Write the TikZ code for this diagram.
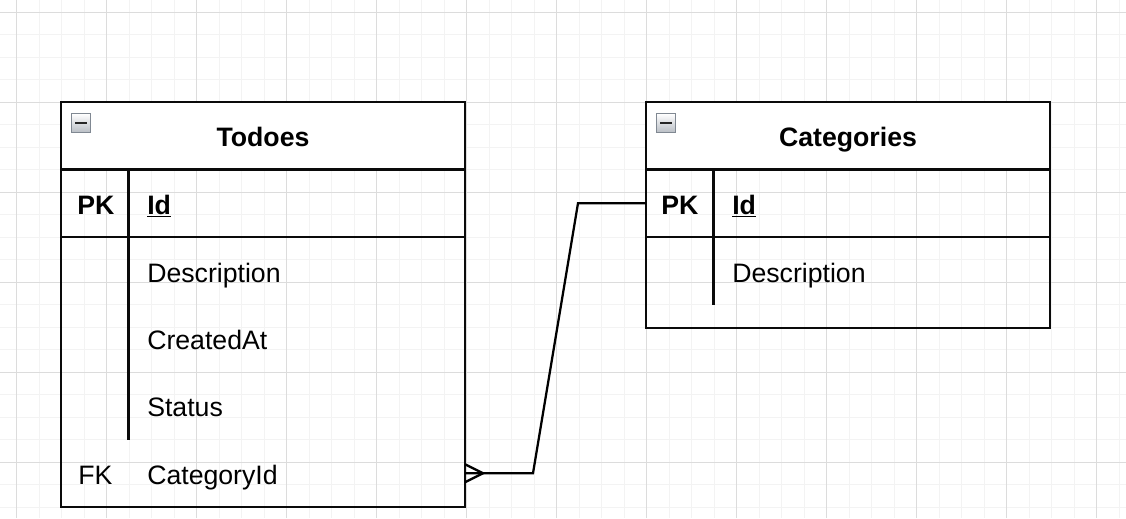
\documentclass[tikz,border=0pt]{standalone}
\usepackage{fontspec}
\setmainfont{Liberation Sans}
\usetikzlibrary{calc}
\definecolor{gridminor}{RGB}{243,243,243}
\definecolor{gridmajor}{RGB}{220,220,220}
\definecolor{iconborder}{RGB}{128,136,146}
\definecolor{iconfill}{RGB}{185,190,197}
\definecolor{edge}{RGB}{10,10,10}
\begin{document}
\begin{tikzpicture}[x=0.75pt,y=-0.75pt,
  minorline/.style={gridminor,line width=0.75pt},
  majorline/.style={gridmajor,line width=0.75pt},
  tframe/.style={draw=edge,line width=1.7pt,minimum width=303pt,inner sep=0pt,outer sep=0pt},
  hdrbox/.style={draw=edge,fill=white,line width=1.7pt,minimum width=303pt,minimum height=50.625pt,inner sep=0pt,outer sep=0pt},
  rowbox/.style={minimum width=303pt,minimum height=50.625pt,inner sep=0pt,outer sep=0pt},
  iconbox/.style={draw=iconborder,line width=1.2pt,top color=white,bottom color=iconfill,minimum size=14pt,inner sep=0pt},
  iconbar/.style={draw=black!85,line width=1.6pt},
  title/.style={anchor=base,inner sep=0pt,font=\fontsize{20}{24}\selectfont\bfseries},
  keytxt/.style={anchor=base west,inner sep=0pt,font=\fontsize{20}{24}\selectfont\bfseries},
  fieldtxt/.style={anchor=base west,inner sep=0pt,font=\fontsize{20}{24}\selectfont},
  sepline/.style={draw=edge,line width=1.7pt},
  thinrule/.style={draw=edge,line width=1.1pt},
  conn/.style={draw=black,line width=1.7pt,line join=miter}
]
\useasboundingbox (0,0) rectangle (1126,518);
\fill[white] (0,0) rectangle (1126,518);
% grid
\foreach \k in {-1,...,49} \draw[minorline] ({16.5+22.5*\k},0) -- ({16.5+22.5*\k},518);
\foreach \k in {0,...,22} \draw[minorline] (0,{12.3+22.5*\k}) -- (1126,{12.3+22.5*\k});
\foreach \k in {0,...,12} \draw[majorline] ({16.5+90*\k},0) -- ({16.5+90*\k},518);
\foreach \k in {0,...,5} \draw[majorline] (0,{12.3+90*\k}) -- (1126,{12.3+90*\k});

% ---------- Todoes ----------
\node[tframe,minimum height=303.75pt] (todo) at (263,304.5) {};
\node[hdrbox] (todo-h) at (263,135.75) {};
\node[iconbox] (todo-icon) at (81,123) {};
\draw[iconbar] ($(todo-icon.center)+(-6,0)$) -- ($(todo-icon.center)+(6,0)$);
\node[title] (todo-title) at (263,146.5) {Todoes};
\node[rowbox] (todo-pk) at (263,203.25) {};
\node[rowbox] (todo-fk) at (263,473.25) {};
\draw[sepline] (128.5,169.5) -- (128.5,439.5);
\draw[thinrule] (61,237) -- (465,237);
\draw[sepline] (61,237) -- (83,237);
\draw[sepline] (443,237) -- (465,237);
\node[keytxt] (todo-pk-t) at (77,214.5) {PK};
\node[keytxt] (todo-id) at (147,214.5) {\underline{Id}};
\node[fieldtxt] (todo-desc) at (147,282) {Description};
\node[fieldtxt] (todo-created) at (147,349.5) {CreatedAt};
\node[fieldtxt] (todo-status) at (147,416.5) {Status};
\node[fieldtxt] (todo-fk-t) at (78,484) {FK};
\node[fieldtxt] (todo-cat) at (147,484) {CategoryId};

% ---------- Categories ----------
\node[tframe,minimum height=169.3pt] (cat) at (848,214.85) {};
\node[hdrbox] (cat-h) at (848,135.75) {};
\node[iconbox] (cat-icon) at (666,123) {};
\draw[iconbar] ($(cat-icon.center)+(-6,0)$) -- ($(cat-icon.center)+(6,0)$);
\node[title] (cat-title) at (848,146.5) {Categories};
\node[rowbox] (cat-pk) at (848,203.25) {};
\draw[sepline] (713.5,169.5) -- (713.5,304.5);
\draw[thinrule] (646,237) -- (1050,237);
\draw[sepline] (646,237) -- (668,237);
\draw[sepline] (1028,237) -- (1050,237);
\node[keytxt] (cat-pk-t) at (661,214.5) {PK};
\node[keytxt] (cat-id) at (732,214.5) {\underline{Id}};
\node[fieldtxt] (cat-desc) at (732,282) {Description};

% ---------- relation ----------
\draw[conn] (todo-fk.east) -- ++(68,0) -- ($(cat-pk.west)+(-68,0)$) -- (cat-pk.west);
\draw[conn] ($(todo-fk.east)+(0,-9)$) -- ($(todo-fk.east)+(18,0)$) -- ($(todo-fk.east)+(0,9)$);
\end{tikzpicture}
\end{document}
